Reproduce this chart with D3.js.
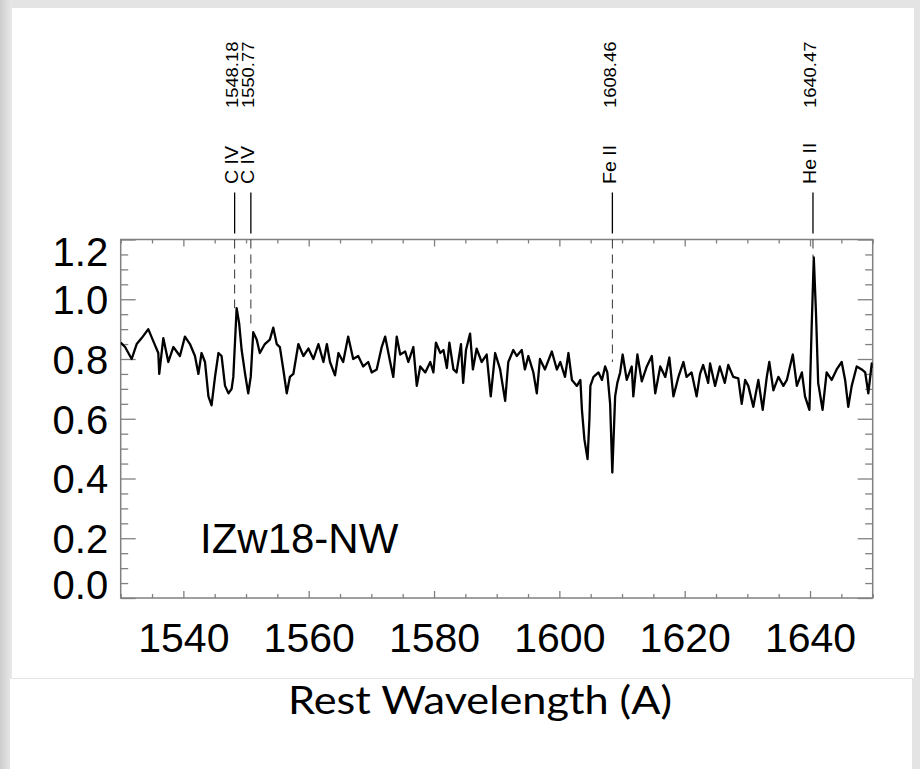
<!DOCTYPE html>
<html>
<head>
<meta charset="utf-8">
<script src="https://cdn.jsdelivr.net/npm/d3@7"></script>
<style>
	html, body { margin: 0; padding: 0; background: #e3e3e3; }
	svg { display: block; }
</style>
</head>
<body>
<svg id="chart" width="920" height="769"></svg>
<script>
'use strict';

// spectrum: rest wavelength (A) and normalised flux
var wave = [
	1530.0, 1530.7, 1531.75, 1532.55, 1533.35, 1534.4, 1535.2, 1536.0, 1536.15, 1536.8,
	1537.6, 1538.4, 1539.45, 1540.25, 1541.05, 1541.85, 1542.4, 1542.9, 1543.45, 1544.0,
	1544.5, 1545.05, 1545.6, 1546.1, 1546.65, 1547.2, 1547.7, 1547.97, 1548.5, 1548.9,
	1549.3, 1549.85, 1550.35, 1550.75, 1551.15, 1551.7, 1552.2, 1553.0, 1553.8, 1554.35,
	1554.9, 1555.4, 1555.95, 1556.5, 1557.0, 1557.55, 1558.35, 1559.15, 1559.95, 1560.75,
	1561.55, 1562.35, 1562.9, 1563.4, 1564.2, 1564.75, 1565.5, 1566.3, 1567.1, 1567.9,
	1568.7, 1569.5, 1570.05, 1570.85, 1571.65, 1572.2, 1573.0, 1573.5, 1574.05, 1574.6,
	1575.4, 1575.9, 1576.7, 1577.25, 1577.8, 1578.6, 1579.4, 1579.9, 1580.3, 1581.0,
	1581.5, 1582.05, 1582.45, 1583.1, 1583.6, 1584.3, 1584.65, 1585.1, 1585.75, 1586.2,
	1586.8, 1587.6, 1588.4, 1589.05, 1589.75, 1590.55, 1591.35, 1591.85, 1592.65, 1593.2,
	1594.0, 1594.5, 1595.05, 1595.85, 1596.4, 1596.9, 1597.7, 1598.8, 1599.6, 1600.15,
	1600.9, 1601.45, 1602.0, 1602.8, 1603.35, 1603.6, 1604.0, 1604.5, 1604.8, 1604.95,
	1605.45, 1606.25, 1606.8, 1607.3, 1607.65, 1608.1, 1608.45, 1608.9, 1609.25, 1609.7,
	1610.1, 1610.75, 1611.55, 1611.8, 1612.45, 1613.15, 1613.95, 1614.75, 1615.3, 1616.1,
	1616.9, 1617.55, 1618.2, 1619.0, 1619.8, 1620.3, 1621.1, 1621.9, 1622.45, 1622.95,
	1623.75, 1624.05, 1624.85, 1625.6, 1626.4, 1626.95, 1627.75, 1628.55, 1629.1, 1629.65,
	1630.15, 1630.95, 1631.75, 1632.45, 1633.1, 1633.5, 1634.15, 1634.95, 1635.75, 1636.3,
	1637.25, 1637.9, 1638.7, 1639.2, 1639.9, 1640.25, 1640.6, 1640.95, 1641.3, 1642.0,
	1642.65, 1643.45, 1644.25, 1645.05, 1645.6, 1646.1, 1646.65, 1647.45, 1648.25, 1648.8,
	1649.3, 1649.85, 1650.0
];
var flux = [
	0.855, 0.84, 0.80, 0.85, 0.87, 0.90, 0.86, 0.82, 0.75, 0.87,
	0.79, 0.84, 0.81, 0.875, 0.85, 0.81, 0.75, 0.82, 0.79, 0.675,
	0.645, 0.74, 0.82, 0.81, 0.71, 0.685, 0.70, 0.74, 0.97, 0.92,
	0.83, 0.75, 0.685, 0.74, 0.89, 0.865, 0.82, 0.85, 0.865, 0.905,
	0.85, 0.84, 0.765, 0.685, 0.74, 0.75, 0.85, 0.81, 0.835, 0.80,
	0.85, 0.79, 0.85, 0.79, 0.745, 0.82, 0.79, 0.875, 0.80, 0.81,
	0.775, 0.79, 0.755, 0.765, 0.84, 0.875, 0.79, 0.74, 0.875, 0.815,
	0.825, 0.79, 0.84, 0.71, 0.775, 0.755, 0.79, 0.755, 0.855, 0.82,
	0.83, 0.77, 0.855, 0.765, 0.755, 0.85, 0.72, 0.83, 0.885, 0.765,
	0.835, 0.79, 0.815, 0.675, 0.82, 0.765, 0.66, 0.79, 0.83, 0.81,
	0.83, 0.765, 0.81, 0.755, 0.685, 0.80, 0.765, 0.825, 0.765, 0.79,
	0.74, 0.82, 0.73, 0.71, 0.73, 0.63, 0.53, 0.465, 0.60, 0.71,
	0.74, 0.755, 0.73, 0.775, 0.755, 0.65, 0.42, 0.675, 0.72, 0.755,
	0.815, 0.73, 0.775, 0.675, 0.815, 0.725, 0.775, 0.81, 0.685, 0.775,
	0.74, 0.805, 0.675, 0.74, 0.79, 0.74, 0.755, 0.675, 0.75, 0.78,
	0.72, 0.785, 0.71, 0.775, 0.72, 0.78, 0.74, 0.735, 0.65, 0.73,
	0.71, 0.64, 0.73, 0.63, 0.74, 0.79, 0.695, 0.74, 0.71, 0.73,
	0.815, 0.71, 0.755, 0.675, 0.63, 0.90, 1.14, 0.955, 0.72, 0.63,
	0.755, 0.73, 0.765, 0.79, 0.73, 0.64, 0.71, 0.775, 0.765, 0.755,
	0.685, 0.785, 0.77
];

// identified lines
var lineWave = [1548.18, 1550.77, 1608.46, 1640.47];
var lineName = ['C IV', 'C IV', 'Fe II', 'He II'];
var lineStop = [0.97, 0.90, 0.79, 1.14];

var xDomain = [1530, 1650];
var yDomain = [0, 1.2];
var xMajor = [1540, 1560, 1580, 1600, 1620, 1640];
var yMajor = [0.0, 0.2, 0.4, 0.6, 0.8, 1.0, 1.2];
var yLabels = ['0.0', '0.2', '0.4', '0.6', '0.8', '1.0', '1.2'];
var objectName = 'IZw18-NW';
var xTitle = 'Rest Wavelength (A)';

var svg = d3.select('#chart');
var boxL = 120.7, boxR = 872.7, boxT = 239.5, boxB = 598;
var axisColor = '#808080';
var sans = "'Liberation Sans', Arial, Helvetica, sans-serif";

// slide background
var defs = svg.append('defs');
var grad = defs.append('linearGradient').attr('id', 'edge');
grad.append('stop').attr('offset', 0).attr('stop-color', '#cdcdcd');
grad.append('stop').attr('offset', 1).attr('stop-color', '#e9e9e9');
svg.append('rect').attr('width', 920).attr('height', 769).attr('fill', '#e4e4e4');
svg.append('rect').attr('width', 12).attr('height', 769).attr('fill', 'url(#edge)');
svg.append('rect').attr('x', 12).attr('y', 8).attr('width', 902).attr('height', 670)
	.attr('fill', '#fff');
svg.append('rect').attr('x', 10).attr('y', 679).attr('width', 902).attr('height', 90)
	.attr('fill', '#fff');

var x = d3.scaleLinear().domain(xDomain).range([boxL, boxR]);
var y = d3.scaleLinear().domain(yDomain).range([boxB, boxT]);

var xMinor = d3.range(1530, 1651, 5).filter(function(d) { return d % 20 !== 0; });
var yMinor = d3.range(0, 25).map(function(i) { return i * 0.05; })
	.filter(function(d) { return Math.abs(d * 5 - Math.round(d * 5)) > 1e-6; });

function tickAxis(axis, pos, values, len) {
	var g = svg.append('g').attr('transform', pos)
		.call(axis.tickValues(values).tickSizeInner(-len).tickSizeOuter(0).tickFormat(''));
	g.select('.domain').remove();
	g.selectAll('line').attr('stroke', axisColor).attr('stroke-width', 1.3);
	return g;
}

tickAxis(d3.axisBottom(x), 'translate(0,' + boxB + ')', xMajor, 7);
tickAxis(d3.axisBottom(x), 'translate(0,' + boxB + ')', xMinor, 4);
tickAxis(d3.axisTop(x), 'translate(0,' + boxT + ')', xMajor, 7);
tickAxis(d3.axisTop(x), 'translate(0,' + boxT + ')', xMinor, 4);
tickAxis(d3.axisLeft(y), 'translate(' + boxL + ',0)', yMajor, 15);
tickAxis(d3.axisLeft(y), 'translate(' + boxL + ',0)', yMinor, 7.5);
tickAxis(d3.axisRight(y), 'translate(' + boxR + ',0)', yMajor, 15);
tickAxis(d3.axisRight(y), 'translate(' + boxR + ',0)', yMinor, 7.5);

svg.append('rect')
	.attr('x', boxL).attr('y', boxT)
	.attr('width', boxR - boxL).attr('height', boxB - boxT)
	.attr('fill', 'none').attr('stroke', axisColor).attr('stroke-width', 1.5);

// tick labels
var xLab = svg.append('g').attr('transform', 'translate(0,' + boxB + ')')
	.call(d3.axisBottom(x).tickValues(xMajor).tickSize(0).tickPadding(25).tickFormat(d3.format('d')));
xLab.select('.domain').remove();
xLab.selectAll('text').attr('font-family', sans).attr('font-size', 41).attr('fill', '#000');

var yLab = svg.append('g').attr('transform', 'translate(' + boxL + ',0)')
	.call(d3.axisLeft(y).tickValues(yMajor).tickSize(0).tickPadding(12.5)
		.tickFormat(function(d, i) { return yLabels[i]; }));
yLab.select('.domain').remove();
yLab.selectAll('text').attr('font-family', sans).attr('font-size', 40).attr('fill', '#000')
	.attr('dy', '0.36em')
	.attr('y', function(d) { return d === 1.2 ? 12 : (d === 0 ? -14 : 0); });

// spectrum
svg.append('clipPath').attr('id', 'plotArea').append('rect')
	.attr('x', boxL).attr('y', boxT).attr('width', boxR - boxL).attr('height', boxB - boxT);

var spectrum = d3.line()
	.x(function(d) { return x(d); })
	.y(function(d, i) { return y(flux[i]); });

svg.append('path')
	.datum(wave)
	.attr('clip-path', 'url(#plotArea)')
	.attr('d', spectrum)
	.attr('fill', 'none')
	.attr('stroke', '#000')
	.attr('stroke-width', 2.3)
	.attr('stroke-linejoin', 'round');

// line markers
var marks = svg.append('g');
lineWave.forEach(function(w, i) {
	var px = x(w);
	marks.append('line')
		.attr('x1', px).attr('x2', px).attr('y1', boxT).attr('y2', y(lineStop[i]))
		.attr('stroke', '#333').attr('stroke-width', 1).attr('stroke-dasharray', '9,6');
	marks.append('line')
		.attr('x1', px).attr('x2', px).attr('y1', boxT - 47).attr('y2', boxT - 6)
		.attr('stroke', '#000').attr('stroke-width', 1.3);
	marks.append('text')
		.attr('transform', 'translate(' + (px - 3) + ',184) rotate(-90) scale(1.12,1)')
		.attr('dy', '0.36em')
		.attr('font-family', sans).attr('font-size', 17.5)
		.text(lineName[i]);
	marks.append('text')
		.attr('transform', 'translate(' + (px - 3) + ',108) rotate(-90) scale(1.08,1)')
		.attr('dy', '0.36em')
		.attr('font-family', sans).attr('font-size', 17)
		.text(d3.format('.2f')(w));
});

svg.append('text')
	.attr('x', 200).attr('y', 553)
	.attr('font-family', sans).attr('font-size', 42)
	.text(objectName);

svg.append('text')
	.attr('x', 480).attr('y', 714)
	.attr('text-anchor', 'middle')
	.attr('font-family', "Lato, 'Open Sans', sans-serif").attr('font-size', 38)
	.attr('textLength', 384).attr('lengthAdjust', 'spacingAndGlyphs')
	.text(xTitle);
</script>
</body>
</html>
